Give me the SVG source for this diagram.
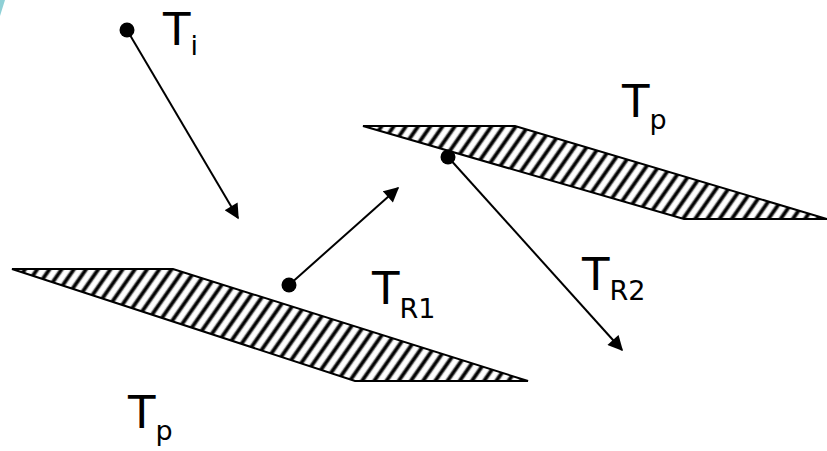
<svg xmlns="http://www.w3.org/2000/svg" width="827" height="451" viewBox="0 0 827 451">
<defs>
<linearGradient id="stripe" x1="0" y1="0" x2="1" y2="0">
<stop offset="0" stop-color="#fff"/>
<stop offset="0.22" stop-color="#fff"/>
<stop offset="0.4" stop-color="#000"/>
<stop offset="0.6" stop-color="#000"/>
<stop offset="0.78" stop-color="#fff"/>
<stop offset="1" stop-color="#fff"/>
</linearGradient>
<pattern id="hatch" patternUnits="userSpaceOnUse" width="10" height="10" patternTransform="rotate(35)">
<rect width="10" height="10" fill="url(#stripe)"/>
</pattern>
<marker id="ah" viewBox="0 0 10 10" refX="9" refY="5" markerWidth="17" markerHeight="15" markerUnits="userSpaceOnUse" orient="auto">
<path d="M0,0 L10,5 L0,10 z" fill="#000"/>
</marker>
</defs>
<style>
.slab{fill:url(#hatch);stroke:#000;stroke-width:2}
.arr{stroke:#000;stroke-width:2;fill:none;marker-end:url(#ah)}
.dot{fill:#000}
.lbl{font-family:"DejaVu Sans","Liberation Sans",sans-serif;fill:#000}
.big{font-size:45px}
.sub{font-size:27px}
</style>
<path d="M0,0 L5,0 L0,16 z" fill="#8fd0d6"/>
<g id="slab-lower"><polygon class="slab" points="12,269 173,269 528,381 355,381"/></g>
<g id="slab-upper"><polygon class="slab" points="363,126 515,126 827,219 684,219"/></g>
<g id="connectors">
<line class="arr" x1="127" y1="30" x2="238" y2="218"/>
<line class="arr" x1="289" y1="285" x2="398" y2="188"/>
<line class="arr" x1="448" y1="157" x2="622" y2="350"/>
</g>
<g id="dots">
<circle class="dot" cx="127" cy="30" r="7.5"/>
<circle class="dot" cx="289" cy="285" r="7.5"/>
<circle class="dot" cx="448" cy="157" r="7.5"/>
</g>
<g id="label-Ti"><text class="lbl" x="163" y="45"><tspan class="big">T</tspan><tspan class="sub" dy="10">i</tspan></text></g>
<g id="label-Tp-top"><text class="lbl" x="622" y="117"><tspan class="big">T</tspan><tspan class="sub" dy="12">p</tspan></text></g>
<g id="label-TR1"><text class="lbl" x="372" y="304"><tspan class="big">T</tspan><tspan class="sub" dy="14">R1</tspan></text></g>
<g id="label-TR2"><text class="lbl" x="582" y="290"><tspan class="big">T</tspan><tspan class="sub" dy="10">R2</tspan></text></g>
<g id="label-Tp-bottom"><text class="lbl" x="128" y="428"><tspan class="big">T</tspan><tspan class="sub" dy="12">p</tspan></text></g>
</svg>
